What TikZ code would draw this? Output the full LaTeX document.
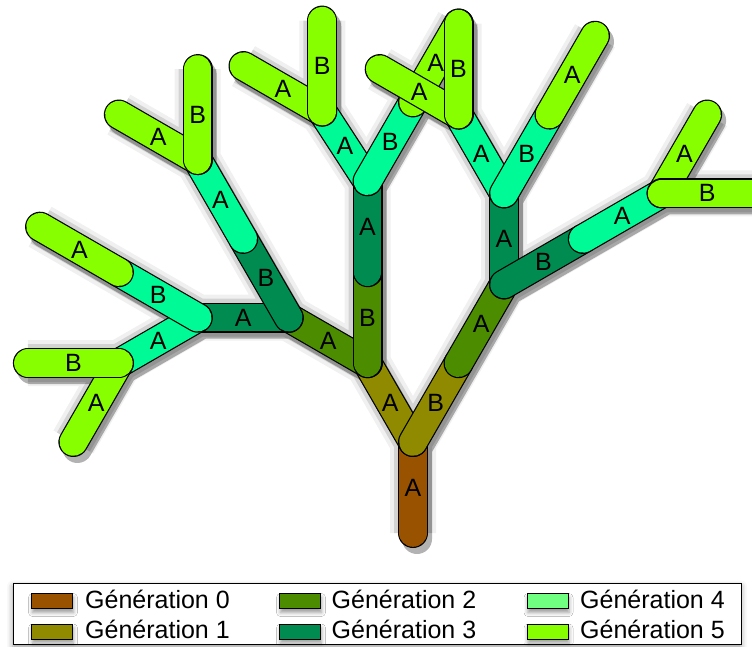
\documentclass[tikz,border=0pt]{standalone}
\usepackage{fontspec}
\setmainfont{Liberation Sans}
\usetikzlibrary{shadows.blur}

\definecolor{GenZero}{RGB}{153,82,0}
\definecolor{GenOne}{RGB}{143,138,0}
\definecolor{GenTwo}{RGB}{75,140,0}
\definecolor{GenThree}{RGB}{0,140,80}
\definecolor{GenFour}{RGB}{0,250,150}
\definecolor{GenFourKey}{RGB}{112,255,128}
\definecolor{GenFive}{RGB}{136,255,0}

\newcommand{\Len}{91}

\begin{document}
\begin{tikzpicture}
[
x=1pt, y=1pt,
Seg/.style={line cap=round, draw=black, line width=1.2pt, double=#1, double distance=27.6pt},
Lbl/.style={font=\fontsize{25}{25}\selectfont, inner sep=0pt, text=black},
TreeShadow/.style={line cap=round, line join=round, draw=black, draw opacity=0.30, line width=30pt,
    transform canvas={xshift=4pt, yshift=-6pt},
    preaction={draw=black, draw opacity=0.12, line width=38pt},
    preaction={draw=black, draw opacity=0.06, line width=46pt}},
LegendBox/.style={rectangle, draw=black, thick, fill=white, minimum width=728pt, minimum height=61pt,
    blur shadow={shadow xshift=0pt, shadow yshift=-3pt, shadow blur radius=6pt}},
Swatch/.style={rectangle, draw=black, thick, fill=#1, minimum width=41pt, minimum height=15pt, inner sep=0pt,
    blur shadow={shadow xshift=1pt, shadow yshift=-4pt, shadow blur radius=4pt}},
KeyText/.style={anchor=base west, inner sep=0pt, font=\fontsize{25}{30}\selectfont},
]

\clip (0,0) rectangle (752,646);

% tree points
\coordinate (t0) at (413,113);
\path (t0) ++(90:\Len) coordinate (n0);
\path (n0) ++(120:\Len) coordinate (n1a);
\path (n0) ++(60:\Len) coordinate (n1b);
\path (n1a) ++(150:\Len) coordinate (n2a);
\path (n1a) ++(90:\Len) coordinate (n2b);
\path (n1b) ++(60:\Len) coordinate (n2c);
\path (n2a) ++(180:\Len) coordinate (n3a);
\path (n2a) ++(120:\Len) coordinate (n3b);
\path (n2b) ++(90:\Len) coordinate (n3c);
\path (n2c) ++(90:\Len) coordinate (n3d);
\path (n2c) ++(30:\Len) coordinate (n3e);
\path (n3a) ++(210:\Len) coordinate (n4a);
\path (n3a) ++(150:\Len) coordinate (n4b);
\path (n3b) ++(120:\Len) coordinate (n4c);
\path (n3c) ++(123:83) coordinate (n4d);
\path (n3c) ++(60:\Len) coordinate (n4e);
\path (n3d) ++(120:\Len) coordinate (n4f);
\path (n3d) ++(60:\Len) coordinate (n4g);
\path (n3e) ++(30:\Len) coordinate (n4h);
\path (n4a) ++(240:\Len) coordinate (n5a);
\path (n4a) ++(180:\Len) coordinate (n5b);
\path (n4b) ++(150:\Len) coordinate (n5c);
\path (n4c) ++(150:\Len) coordinate (n5d);
\path (n4c) ++(90:\Len) coordinate (n5e);
\path (n4d) ++(150:\Len) coordinate (n5f);
\path (n4d) ++(90:\Len) coordinate (n5g);
\path (n4e) ++(60:\Len) coordinate (n5h);
\path (n4f) ++(150:\Len) coordinate (n5i);
\path (n4f) ++(90:\Len) coordinate (n5j);
\path (n4g) ++(60:\Len) coordinate (n5k);
\path (n4h) ++(60:\Len) coordinate (n5l);
\path (n4h) ++(0:\Len) coordinate (n5m);

% shadow
\draw[TreeShadow] (t0)--(n0)--(n1a)--(n2a)--(n3a)--(n4a)--(n5a) (n4a)--(n5b) (n3a)--(n4b)--(n5c)
    (n2a)--(n3b)--(n4c)--(n5d) (n4c)--(n5e) (n1a)--(n2b)--(n3c)--(n4d)--(n5f) (n4d)--(n5g)
    (n3c)--(n4e)--(n5h) (n0)--(n1b)--(n2c)--(n3d)--(n4f)--(n5i) (n4f)--(n5j) (n3d)--(n4g)--(n5k)
    (n2c)--(n3e)--(n4h)--(n5l) (n4h)--(n5m);

% segments
\draw[Seg=GenZero] (t0) -- node[Lbl]{A} (n0);
\draw[Seg=GenOne] (n0) -- node[Lbl]{A} (n1a);
\draw[Seg=GenTwo] (n1a) -- node[Lbl]{A} (n2a);
\draw[Seg=GenThree] (n2a) -- node[Lbl]{A} (n3a);
\draw[Seg=GenFour] (n3a) -- node[Lbl]{A} (n4a);
\draw[Seg=GenFive] (n4a) -- node[Lbl]{A} (n5a);
\draw[Seg=GenFive] (n4a) -- node[Lbl]{B} (n5b);
\draw[Seg=GenFour] (n3a) -- node[Lbl]{B} (n4b);
\draw[Seg=GenFive] (n4b) -- node[Lbl]{A} (n5c);
\draw[Seg=GenThree] (n2a) -- node[Lbl]{B} (n3b);
\draw[Seg=GenFour] (n3b) -- node[Lbl]{A} (n4c);
\draw[Seg=GenFive] (n4c) -- node[Lbl]{A} (n5d);
\draw[Seg=GenFive] (n4c) -- node[Lbl]{B} (n5e);
\draw[Seg=GenTwo] (n1a) -- node[Lbl]{B} (n2b);
\draw[Seg=GenThree] (n2b) -- node[Lbl]{A} (n3c);
\draw[Seg=GenFour] (n3c) -- node[Lbl]{A} (n4d);
\draw[Seg=GenFive] (n4d) -- node[Lbl]{A} (n5f);
\draw[Seg=GenFive] (n4d) -- node[Lbl]{B} (n5g);
\draw[Seg=GenFour] (n3c) -- node[Lbl]{B} (n4e);
\draw[Seg=GenFive] (n4e) -- node[Lbl]{A} (n5h);
\draw[Seg=GenOne] (n0) -- node[Lbl]{B} (n1b);
\draw[Seg=GenTwo] (n1b) -- node[Lbl]{A} (n2c);
\draw[Seg=GenThree] (n2c) -- node[Lbl]{A} (n3d);
\draw[Seg=GenFour] (n3d) -- node[Lbl]{A} (n4f);
\draw[Seg=GenFive] (n4f) -- node[Lbl]{A} (n5i);
\draw[Seg=GenFive] (n4f) -- node[Lbl]{B} (n5j);
\draw[Seg=GenFour] (n3d) -- node[Lbl]{B} (n4g);
\draw[Seg=GenFive] (n4g) -- node[Lbl]{A} (n5k);
\draw[Seg=GenThree] (n2c) -- node[Lbl]{B} (n3e);
\draw[Seg=GenFour] (n3e) -- node[Lbl]{A} (n4h);
\draw[Seg=GenFive] (n4h) -- node[Lbl]{A} (n5l);
\draw[Seg=GenFive] (n4h) -- node[Lbl]{B} (n5m);

% legend
\node[LegendBox] (key) at (377,32) {};
\node[Swatch=GenZero] (sw0) at (52,45) {};
\node[Swatch=GenOne] (sw1) at (52,14.5) {};
\node[Swatch=GenTwo] (sw2) at (300,45) {};
\node[Swatch=GenThree] (sw3) at (300,14.5) {};
\node[Swatch=GenFourKey] (sw4) at (547.5,45) {};
\node[Swatch=GenFive] (sw5) at (547.5,14.5) {};
\node[KeyText] (kt0) at (85,38) {Génération 0};
\node[KeyText] (kt1) at (85,8) {Génération 1};
\node[KeyText] (kt2) at (331.5,38) {Génération 2};
\node[KeyText] (kt3) at (331.5,8) {Génération 3};
\node[KeyText] (kt4) at (580,38) {Génération 4};
\node[KeyText] (kt5) at (580,8) {Génération 5};

\end{tikzpicture}
\end{document}
